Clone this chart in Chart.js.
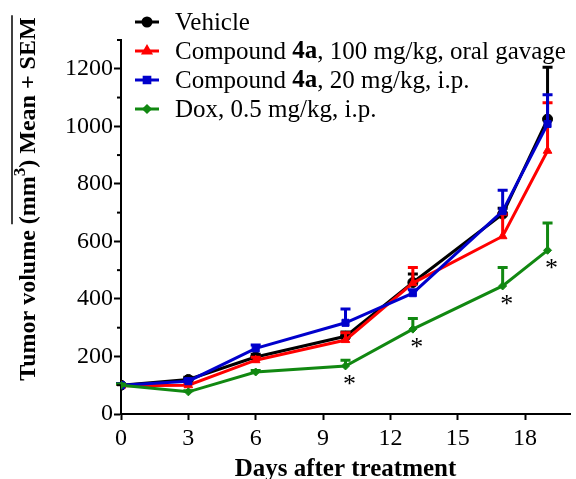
<!DOCTYPE html>
<html>
<head>
<meta charset="utf-8">
<script src="https://cdn.jsdelivr.net/npm/chart.js@4/dist/chart.umd.min.js"></script>
<style>
    html, body { margin: 0; padding: 0; background: #fff; }
    #tumor-canvas { display: block; }
</style>
</head>
<body>
<canvas id="tumor-canvas" width="576" height="479"></canvas>
<script>
const days = [0, 3, 6, 10, 13, 17, 19];

const vehicle = [100, 120, 198, 270, 457, 695, 1025];
const vehicleSem = [5, 8, 10, 15, 30, 20, 180];

const compound100 = [98, 100, 187, 257, 455, 618, 915];
const compound100Sem = [5, 5, 10, 25, 54, 76, 167];

const compound20 = [100, 114, 228, 317, 420, 705, 1008];
const compound20Sem = [5, 8, 12, 48, 12, 73, 102];

const dox = [100, 77, 146, 167, 295, 445, 569];
const doxSem = [4, 4, 5, 20, 37, 64, 95];

const sigDays = [10, 13, 17, 19];

const xTicks = [0, 3, 6, 9, 12, 15, 18];
const yTicks = [0, 200, 400, 600, 800, 1000, 1200];
const yMinorTicks = [100, 300, 500, 700, 900, 1100, 1300];

const legendRows = [
    [["Vehicle", false]],
    [["Compound ", false], ["4a", true], [", 100 mg/kg, oral gavage", false]],
    [["Compound ", false], ["4a", true], [", 20 mg/kg, i.p.", false]],
    [["Dox, 0.5 mg/kg, i.p.", false]]
];

const serif = "Liberation Serif";
Chart.defaults.font.family = serif;
Chart.defaults.color = "#000";

function toPoints(values) {
    return days.map((d, i) => ({ x: d, y: values[i] }));
}

function makeSeries(label, values, sem, color, style, radius, order) {
    return {
        label: label,
        data: toPoints(values),
        sem: sem,
        borderColor: color,
        backgroundColor: color,
        borderWidth: 3,
        pointStyle: style,
        pointRadius: radius,
        pointBorderWidth: 1,
        tension: 0,
        order: order
    };
}

// one-sided error bars (mean + SEM), drawn right after each line
const errorBars = {
    id: "errorBars",
    afterDatasetDraw(chart, args) {
        const ds = chart.data.datasets[args.index];
        const ctx = chart.ctx;
        const yScale = chart.scales.y;
        ctx.save();
        ctx.strokeStyle = ds.borderColor;
        ctx.lineWidth = 3;
        args.meta.data.forEach((pt, i) => {
            const top = yScale.getPixelForValue(ds.data[i].y + ds.sem[i]);
            ctx.beginPath();
            ctx.moveTo(pt.x, pt.y);
            ctx.lineTo(pt.x, top);
            ctx.moveTo(pt.x - 5, top);
            ctx.lineTo(pt.x + 5, top);
            ctx.stroke();
        });
        ctx.restore();
    }
};

const decorations = {
    id: "decorations",
    afterDraw(chart) {
        const ctx = chart.ctx;
        const xScale = chart.scales.x;
        const yScale = chart.scales.y;

        ctx.save();
        // minor ticks on y
        ctx.strokeStyle = "#000";
        ctx.lineWidth = 2;
        const ax = xScale.left;
        for (const v of yMinorTicks) {
            const y = yScale.getPixelForValue(v);
            ctx.beginPath();
            ctx.moveTo(ax, y);
            ctx.lineTo(ax - 4, y);
            ctx.stroke();
        }

        // significance stars under the Dox points
        const doxMeta = chart.getDatasetMeta(3);
        ctx.fillStyle = "#000";
        ctx.font = "26px " + serif;
        ctx.textAlign = "center";
        ctx.textBaseline = "top";
        for (const d of sigDays) {
            const pt = doxMeta.data[days.indexOf(d)];
            ctx.fillText("*", pt.x + 4, pt.y + 6);
        }

        // y axis title, rotated, with the bar over the mean part
        ctx.translate(0, 199);
        ctx.rotate(-Math.PI / 2);
        const big = "bold 24px " + serif;
        const small = "bold 17px " + serif;
        const parts = [
            ["Tumor volume ", big, 35],
            ["(mm", big, 35],
            ["3", small, 25],
            [") Mean + SEM", big, 35]
        ];
        let total = 0;
        for (const p of parts) {
            ctx.font = p[1];
            total += ctx.measureText(p[0]).width;
        }
        let x = -total / 2;
        let barStart = 0;
        ctx.textAlign = "left";
        ctx.textBaseline = "alphabetic";
        parts.forEach((p, i) => {
            ctx.font = p[1];
            if (i === 1) barStart = x;
            ctx.fillText(p[0], x, p[2]);
            x += ctx.measureText(p[0]).width;
        });
        ctx.lineWidth = 1.5;
        ctx.beginPath();
        ctx.moveTo(barStart, 12);
        ctx.lineTo(x + 2, 12);
        ctx.stroke();
        ctx.restore();

        // legend
        ctx.save();
        const markers = chart.data.datasets;
        legendRows.forEach((row, i) => {
            const ds = markers[i];
            const y = 22 + i * 29;
            ctx.strokeStyle = ds.borderColor;
            ctx.fillStyle = ds.borderColor;
            ctx.lineWidth = 3;
            ctx.beginPath();
            ctx.moveTo(135, y);
            ctx.lineTo(159, y);
            ctx.stroke();
            Chart.helpers.drawPoint(ctx, {
                pointStyle: ds.pointStyle,
                radius: ds.pointRadius - 1,
                borderWidth: 1
            }, 147, y);
            let tx = 175;
            ctx.fillStyle = "#000";
            ctx.textAlign = "left";
            ctx.textBaseline = "middle";
            for (const seg of row) {
                ctx.font = (seg[1] ? "bold " : "") + "25px " + serif;
                ctx.fillText(seg[0], tx, y + 1);
                tx += ctx.measureText(seg[0]).width;
            }
        });
        ctx.restore();
    }
};

const chart = new Chart(document.getElementById("tumor-canvas"), {
    type: "line",
    data: {
        datasets: [
            makeSeries("Vehicle", vehicle, vehicleSem, "#000000", "circle", 5, 4),
            makeSeries("Compound 4a, 100 mg/kg, oral gavage", compound100, compound100Sem, "#ff0000", "triangle", 5, 3),
            makeSeries("Compound 4a, 20 mg/kg, i.p.", compound20, compound20Sem, "#0000cc", "rect", 5, 2),
            makeSeries("Dox, 0.5 mg/kg, i.p.", dox, doxSem, "#118811", "rectRot", 4, 1)
        ]
    },
    options: {
        responsive: false,
        animation: false,
        devicePixelRatio: 1,
        layout: { padding: { top: 40, right: 0, left: 0, bottom: 0 } },
        plugins: {
            legend: { display: false },
            tooltip: { enabled: false }
        },
        scales: {
            x: {
                type: "linear",
                min: 0,
                max: 20,
                afterBuildTicks: (scale) => { scale.ticks = xTicks.map(v => ({ value: v })); },
                afterFit: (scale) => { scale.height = 65; },
                border: { color: "#000", width: 2 },
                grid: { drawOnChartArea: false, tickLength: 6, tickColor: "#000", tickWidth: 2 },
                ticks: {
                    color: "#000",
                    font: { family: serif, size: 24 },
                    padding: 4,
                    maxRotation: 0,
                    callback: (v) => String(v)
                },
                title: {
                    display: true,
                    text: "Days after treatment",
                    color: "#000",
                    font: { family: serif, size: 25, weight: "bold" },
                    padding: { top: 0, bottom: -6 }
                }
            },
            y: {
                min: 0,
                max: 1300,
                afterBuildTicks: (scale) => { scale.ticks = yTicks.map(v => ({ value: v })); },
                afterFit: (scale) => { scale.width = 121; },
                border: { color: "#000", width: 2 },
                grid: { drawOnChartArea: false, tickLength: 7, tickColor: "#000", tickWidth: 2 },
                ticks: {
                    color: "#000",
                    font: { family: serif, size: 24 },
                    padding: 1,
                    callback: (v) => String(v)
                }
            }
        }
    },
    plugins: [errorBars, decorations]
});
</script>
</body>
</html>
